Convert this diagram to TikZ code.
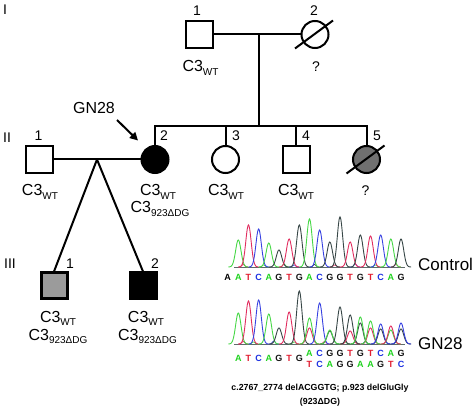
\documentclass[tikz,border=0pt]{standalone}
\usepackage{fontspec}
\setmainfont{Liberation Sans}
\usetikzlibrary{arrows.meta}
\definecolor{seqA}{RGB}{30,210,30}
\definecolor{seqT}{RGB}{225,30,50}
\definecolor{seqC}{RGB}{30,50,225}
\definecolor{seqG}{RGB}{20,20,20}
\definecolor{trA}{RGB}{70,215,70}
\definecolor{trT}{RGB}{225,45,95}
\definecolor{trC}{RGB}{55,65,225}
\definecolor{trG}{RGB}{55,70,70}
\definecolor{midgray}{RGB}{112,112,112}
\definecolor{lightgray}{RGB}{155,155,155}
\newcommand{\cthree}[1]{C3\raisebox{-3.5pt}{\fontsize{10}{10}\selectfont #1}}
\begin{document}
\begin{tikzpicture}[x=1pt,y=-1pt,
  male/.style={draw, rectangle, minimum size=27pt, inner sep=0pt, line width=2pt},
  female/.style={draw, circle, minimum size=27pt, inner sep=0pt, line width=2pt},
  lbl/.style={font=\fontsize{16}{16}\selectfont, inner sep=0pt, anchor=base},
  qm/.style={font=\fontsize{14}{14}\selectfont, inner sep=0pt, anchor=base},
  num/.style={font=\fontsize{14}{14}\selectfont, inner sep=0pt},
  gen/.style={font=\fontsize{14}{14}\selectfont, inner sep=0pt},
  pline/.style={line width=2pt},
  chrom/.style={line width=0.9pt},
  basel/.style={font=\bfseries\fontsize{9}{9}\selectfont, inner sep=0pt},
  side/.style={font=\fontsize{17}{17}\selectfont, inner sep=0pt, anchor=west},
  capt/.style={font=\bfseries\fontsize{8.8}{8.8}\selectfont, inner sep=0pt}]
\useasboundingbox (0,0) rectangle (475,409);

% generation labels
\node[gen] (gI) at (5,10) {I};
\node[gen] (gII) at (7,137.5) {II};
\node[gen] (gIII) at (10,264) {III};

% generation I
\node[male] (i1) at (199,34.5) {};
\node[female] (i2) at (315,34.5) {};
\draw[pline] (295,48.5) -- (333,20.5);
\node[num] (n_i1) at (197,11) {1};
\node[num] (n_i2) at (314,11) {2};
\node[lbl] (l_i1) at (200.5,72) {\cthree{WT}};
\node[qm] (q_i2) at (316,72) {?};
\draw[pline] (i1.east) -- (i2.west);
\coordinate (m1) at (259,34.5);
\coordinate (sib) at (259,126);
\draw[pline] (m1) -- (sib);

% generation II
\node[male] (ii1) at (39.5,159.5) {};
\node[female, fill=black] (ii2) at (155,159.5) {};
\node[female] (ii3) at (225.5,159.5) {};
\node[male] (ii4) at (296,159.5) {};
\node[female, fill=midgray] (ii5) at (366.5,159.5) {};
\draw[pline] (346.5,173.5) -- (384.5,145.5);
\node[num] (n_ii1) at (38.5,136) {1};
\node[num] (n_ii2) at (164,136) {2};
\node[num] (n_ii3) at (236,136) {3};
\node[num] (n_ii4) at (306,136) {4};
\node[num] (n_ii5) at (377,136) {5};
\draw[pline] (ii2.north) |- (sib) -| (ii5.north);
\draw[pline] (ii3.north) -- (ii3.north |- sib);
\draw[pline] (ii4.north) -- (ii4.north |- sib);
\node[lbl] (l_ii1) at (40,196) {\cthree{WT}};
\node[lbl] (l_ii2a) at (158,196) {\cthree{WT}};
\node[lbl] (l_ii2b) at (160,213) {\cthree{923ΔDG}};
\node[lbl] (l_ii3) at (226,196) {\cthree{WT}};
\node[lbl] (l_ii4) at (296,196) {\cthree{WT}};
\node[qm] (q_ii5) at (365.5,196) {?};
\draw[pline] (ii1.east) -- (ii2.west);

% proband arrow
\node[font=\fontsize{16}{16}\selectfont, inner sep=0pt] (gn) at (94,107.5) {GN28};
\coordinate (arrs) at (117,120);
\coordinate (arrt) at (138,140.5);
\draw[pline, -{Triangle[length=8pt,width=8pt]}] (arrs) -- (arrt);

% generation III
\node[male, fill=lightgray, line width=3pt, minimum size=26pt] (iii1) at (54,286) {};
\node[male, fill=black] (iii2) at (143,286) {};
\coordinate (m2) at (97,159.5);
\draw[pline] (m2) -- (iii1.north);
\draw[pline] (m2) -- (iii2.north);
\node[num] (n_iii1) at (70,264) {1};
\node[num] (n_iii2) at (155,264) {2};
\node[lbl] (l_iii1a) at (58,322.5) {\cthree{WT}};
\node[lbl] (l_iii1b) at (58,340.5) {\cthree{923ΔDG}};
\node[lbl] (l_iii2a) at (146,322.5) {\cthree{WT}};
\node[lbl] (l_iii2b) at (147.5,340.5) {\cthree{923ΔDG}};

% control chromatogram
\draw[trG!80, line width=0.9pt] (234,267) -- (405,267);
\foreach \i/\h/\c in {0/2.5/trT,2/2/trA,4/3/trA,5/2/trC,7/2.5/trG,9/2/trT,11/3/trC,13/2/trA,15/2.5/trT}{
  \pgfmathsetmacro{\p}{238.3+10.17*\i+5}
  \draw[\c, line width=0.7pt] plot[domain=-5:5, samples=15, smooth] ({\p+\x}, {267-\h*exp(-(\x/2)^2)});
}
\foreach \i/\h/\c in {0/27/trA,1/42/trT,2/38/trC,3/24/trA,4/17/trG,5/28/trT,6/42/trG,7/48/trA,8/37/trC,9/25/trG,10/50/trG,11/25/trT,12/32/trG,13/31/trT,14/32/trC,15/28/trA,16/28/trG}{
  \pgfmathsetmacro{\p}{238.3+10.17*\i}
  \draw[\c, chrom] plot[domain=-10:10, samples=35, smooth] ({\p+\x}, {267-\h*exp(-(\x/3.8)^2)});
}
\node[basel, text=black] (c_pre) at (227.7,277) {A};
\foreach \i/\l/\c in {0/A/seqA,1/T/seqT,2/C/seqC,3/A/seqA,4/G/seqG,5/T/seqT,6/G/seqG,7/A/seqA,8/C/seqC,9/G/seqG,10/G/seqG,11/T/seqT,12/G/seqG,13/T/seqT,14/C/seqC,15/A/seqA,16/G/seqG}{
  \pgfmathsetmacro{\p}{238.3+10.17*\i}
  \node[basel, text=\c] (cs\i) at (\p,277) {\l};
}
\node[side] (ctl) at (418,264) {Control};

% GN28 chromatogram
\draw[trG!80, line width=0.9pt] (234,344) -- (405,344);
\foreach \i/\h/\c in {0/2.5/trT,1/2/trA,3/3/trC,5/2/trA,8/2.5/trT,10/2/trA,12/2.5/trC}{
  \pgfmathsetmacro{\p}{238.3+10.17*\i+5}
  \draw[\c, line width=0.7pt] plot[domain=-5:5, samples=15, smooth] ({\p+\x}, {344-\h*exp(-(\x/2)^2)});
}
\foreach \i/\h/\c in {0/31/trA,1/43/trT,2/44/trC,3/30/trA,4/16/trG,5/32/trT,6/53/trG,7/16/trT,7/26/trA,8/41/trC,9/13/trG,9/14/trA,10/37/trG,11/13/trT,11/29/trG,12/21/trG,12/27/trA,13/16/trT,13/23/trA,14/15/trG,14/20/trC,15/14/trA,15/18/trT,16/15/trG,16/21/trC}{
  \pgfmathsetmacro{\p}{238.3+10.17*\i}
  \draw[\c, chrom] plot[domain=-10:10, samples=35, smooth] ({\p+\x}, {344-\h*exp(-(\x/3.8)^2)});
}
\foreach \i/\l/\c in {0/A/seqA,1/T/seqT,2/C/seqC,3/A/seqA,4/G/seqG,5/T/seqT,6/G/seqG}{
  \pgfmathsetmacro{\p}{238.3+10.17*\i}
  \node[basel, text=\c] (gm\i) at (\p,358.5) {\l};
}
\foreach \i/\l/\c in {7/A/seqA,8/C/seqC,9/G/seqG,10/G/seqG,11/T/seqT,12/G/seqG,13/T/seqT,14/C/seqC,15/A/seqA,16/G/seqG}{
  \pgfmathsetmacro{\p}{238.3+10.17*\i}
  \node[basel, text=\c] (gu\i) at (\p,353.5) {\l};
}
\foreach \i/\l/\c in {7/T/seqT,8/C/seqC,9/A/seqA,10/G/seqG,11/G/seqG,12/A/seqA,13/A/seqA,14/G/seqG,15/T/seqT,16/C/seqC}{
  \pgfmathsetmacro{\p}{238.3+10.17*\i}
  \node[basel, text=\c] (gl\i) at (\p,364) {\l};
}
\node[side] (gnr) at (418,344) {GN28};

% caption
\node[capt] (cap1) at (320,388) {c.2767\_2774 delACGGTG; p.923 delGluGly};
\node[capt] (cap2) at (320,402) {(923ΔDG)};
\end{tikzpicture}
\end{document}
